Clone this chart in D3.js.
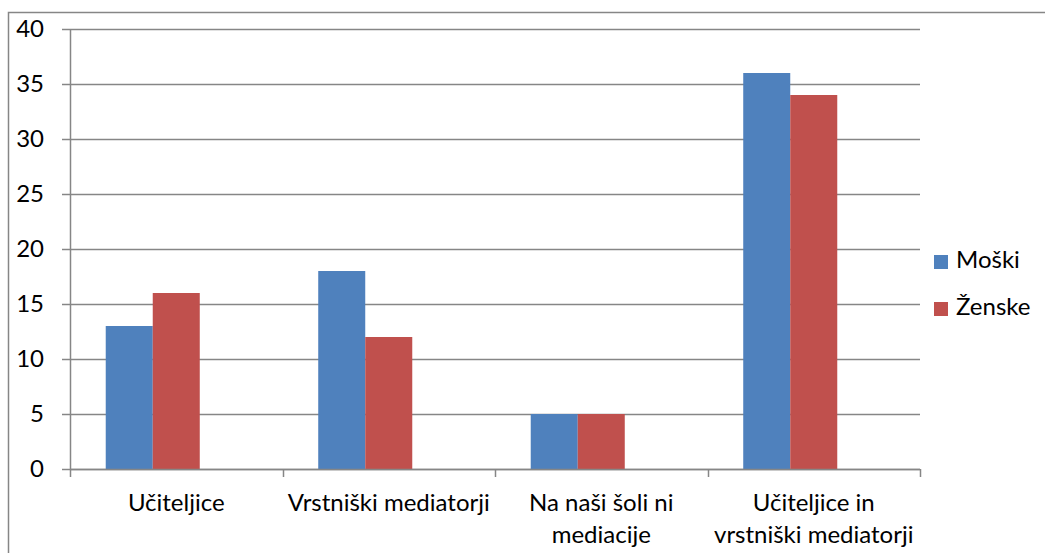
<!DOCTYPE html>
<html>
<head>
<meta charset="utf-8">
<script src="https://cdn.jsdelivr.net/npm/d3@7"></script>
<style>
  body { margin: 0; background: #fff; }
  svg { display: block; font-family: Lato, "Liberation Sans", sans-serif; }
</style>
</head>
<body>
<script>
// chart values
var categories = ["Učiteljice", "Vrstniški mediatorji", "Na naši šoli ni mediacije", "Učiteljice in vrstniški mediatorji"];
var categoryLines = [["Učiteljice"], ["Vrstniški mediatorji"], ["Na naši šoli ni", "mediacije"], ["Učiteljice in", "vrstniški mediatorji"]];
var seriesNames = ["Moški", "Ženske"];
var moski = [13, 18, 5, 36];
var zenske = [16, 12, 5, 34];
var yTicks = [0, 5, 10, 15, 20, 25, 30, 35, 40];
var colors = ["#4F81BD", "#C0504D"];

var W = 1045, H = 553;
var plot = {left: 70, right: 920, top: 29, bottom: 469};
var grey = "#868686";
var fontSize = 24;

var svg = d3.select("body").append("svg")
    .attr("width", W)
    .attr("height", H);

// outer chart frame (cropped at right/bottom)
svg.append("rect")
    .attr("x", 8.5).attr("y", 12.5)
    .attr("width", W + 20).attr("height", H + 20)
    .attr("fill", "none").attr("stroke", grey).attr("stroke-width", 1.5);

var y = d3.scaleLinear().domain([0, 40]).range([plot.bottom, plot.top]);
var x0 = d3.scaleBand().domain(categories).range([plot.left, plot.right]).padding(0);
// three slots per category (third one empty, as in the original sheet)
var x1 = d3.scaleBand().domain([0, 1, 2]).range([0, x0.bandwidth()])
    .paddingInner(0).paddingOuter(0.76);

// gridlines
svg.append("g").selectAll("line").data(yTicks).join("line")
    .attr("x1", plot.left - 8).attr("x2", plot.right)
    .attr("y1", d => y(d) + 0.5).attr("y2", d => y(d) + 0.5)
    .attr("stroke", grey).attr("stroke-width", 1.5);

// y axis line
svg.append("line")
    .attr("x1", plot.left + 0.5).attr("x2", plot.left + 0.5)
    .attr("y1", plot.top).attr("y2", plot.bottom + 0.5)
    .attr("stroke", grey).attr("stroke-width", 1.5);

// y tick labels
svg.append("g").selectAll("text").data(yTicks).join("text")
    .attr("x", 44).attr("y", d => y(d))
    .attr("dy", "0.35em")
    .attr("text-anchor", "end")
    .attr("font-size", fontSize)
    .attr("fill", "#000")
    .text(d => d);

// bars
var rows = categories.map((c, i) => ({cat: c, vals: [moski[i], zenske[i]]}));
var groups = svg.append("g").selectAll("g").data(rows).join("g")
    .attr("transform", d => "translate(" + x0(d.cat) + ",0)");
groups.selectAll("rect").data(d => d.vals.map((v, k) => ({v: v, k: k}))).join("rect")
    .attr("x", d => x1(d.k))
    .attr("width", x1.bandwidth())
    .attr("y", d => y(d.v))
    .attr("height", d => y(0) - y(d.v))
    .attr("fill", d => colors[d.k]);

// x axis line + ticks
svg.append("line")
    .attr("x1", plot.left).attr("x2", plot.right)
    .attr("y1", plot.bottom + 0.5).attr("y2", plot.bottom + 0.5)
    .attr("stroke", grey).attr("stroke-width", 1.5);
var xTickPos = categories.map(c => x0(c)).concat([plot.right]);
svg.append("g").selectAll("line").data(xTickPos).join("line")
    .attr("x1", d => Math.round(d) + 0.5).attr("x2", d => Math.round(d) + 0.5)
    .attr("y1", plot.bottom).attr("y2", plot.bottom + 8)
    .attr("stroke", grey).attr("stroke-width", 1.5);

// category labels
var labels = svg.append("g").selectAll("text").data(categories).join("text")
    .attr("text-anchor", "middle")
    .attr("font-size", fontSize)
    .attr("fill", "#000");
labels.each(function(c, i) {
  var t = d3.select(this);
  var cx = x0(c) + x0.bandwidth() / 2;
  categoryLines[i].forEach((line, j) => {
    t.append("tspan").attr("x", cx).attr("y", 511 + j * 32).text(line);
  });
});

// legend
var legend = svg.append("g").selectAll("g").data(seriesNames).join("g")
    .attr("transform", (d, i) => "translate(934," + (255 + i * 47) + ")");
legend.append("rect").attr("width", 14).attr("height", 14)
    .attr("fill", (d, i) => colors[i]);
legend.append("text").attr("x", 22).attr("y", 13)
    .attr("font-size", fontSize).attr("fill", "#000")
    .text(d => d);
</script>
</body>
</html>
